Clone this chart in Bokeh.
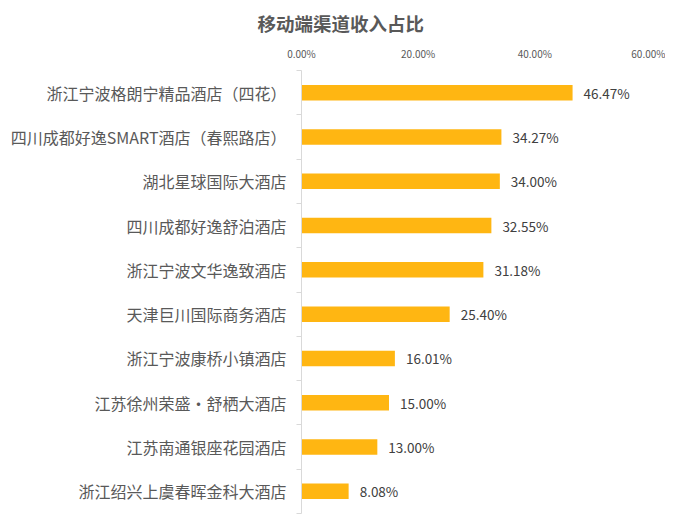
from bokeh.plotting import figure
from bokeh.models import Range1d, FixedTicker, NumeralTickFormatter
from bokeh.core.properties import value
from bokeh.embed import file_html
from bokeh.resources import INLINE

hotels = [
    "浙江宁波格朗宁精品酒店（四花）",
    "四川成都好逸SMART酒店（春熙路店）",
    "湖北星球国际大酒店",
    "四川成都好逸舒泊酒店",
    "浙江宁波文华逸致酒店",
    "天津巨川国际商务酒店",
    "浙江宁波康桥小镇酒店",
    "江苏徐州荣盛·舒栖大酒店",
    "江苏南通银座花园酒店",
    "浙江绍兴上虞春晖金科大酒店",
]
shares = [0.4647, 0.3427, 0.3400, 0.3255, 0.3118, 0.2540, 0.1601, 0.1500, 0.1300, 0.0808]
x_ticks = [0.0, 0.2, 0.4, 0.6]

FONT = "Noto Sans CJK SC"
n = len(hotels)
ypos = [n - 1 - i + 0.5 for i in range(n)]
labels_txt = [f"{v*100:.2f}%" for v in shares]

p = figure(width=665, height=516, output_backend="svg", toolbar_location=None,
           x_range=Range1d(0, 0.6), y_range=Range1d(0, n),
           x_axis_location="above", min_border_left=301, min_border_right=14,
           min_border_top=50, min_border_bottom=3)
p.outline_line_color = None
p.xgrid.visible = False
p.ygrid.visible = False

p.title.text = "移动端渠道收入占比"
p.title.text_font = FONT
p.title.text_font_size = "18.5px"
p.title.text_font_style = "bold"
p.title.text_color = "#595959"
p.title.align = "left"
p.title.offset = -44
p.title.standoff = 14

p.hbar(y=ypos, right=shares, left=0, height=0.35, color="#FFB612", line_color=None)
p.text(x=shares, y=ypos, text=labels_txt, x_offset=11, text_baseline="middle",
       text_align="left", text_font=value(FONT), text_font_size="13.5px", text_color="#404040")

xa = p.xaxis[0]
xa.ticker = FixedTicker(ticks=x_ticks, minor_ticks=[])
xa.formatter = NumeralTickFormatter(format="0.00%")
xa.axis_line_color = None
xa.major_tick_line_color = None
xa.minor_tick_line_color = None
xa.major_label_text_font = FONT
xa.major_label_text_font_size = "10px"
xa.major_label_text_color = "#595959"
xa.major_label_standoff = 4

ya = p.yaxis[0]
ya.ticker = FixedTicker(ticks=ypos, minor_ticks=list(range(n + 1)))
ya.major_label_overrides = {y: t for y, t in zip(ypos, hotels)}
ya.axis_line_color = "#d9d9d9"
ya.major_tick_line_color = None
ya.major_tick_out = 0
ya.major_tick_in = 0
ya.minor_tick_line_color = "#d9d9d9"
ya.minor_tick_out = 5
ya.minor_tick_in = 0
ya.major_label_text_font = FONT
ya.major_label_text_font_size = "16px"
ya.major_label_text_color = "#595959"
ya.major_label_standoff = 10

open("out.html", "w").write(file_html(p, INLINE))
